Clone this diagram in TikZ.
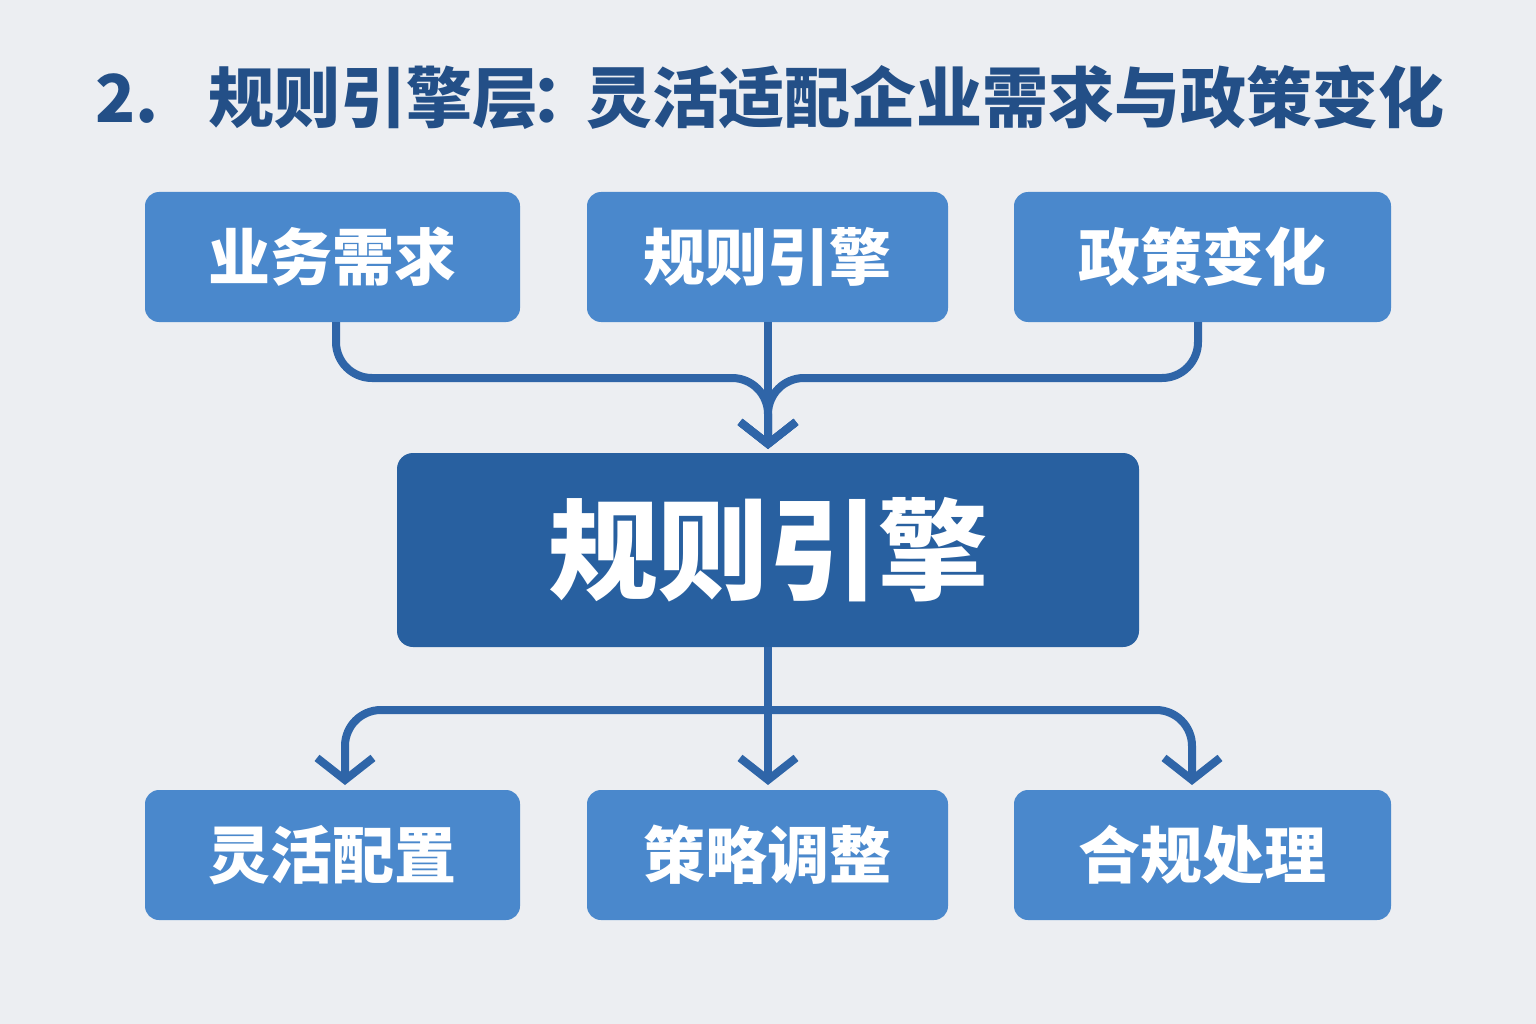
\documentclass[tikz,border=0pt]{standalone}
\usepackage{fontspec}
\newfontfamily\cjk{Noto Sans CJK SC}
\usetikzlibrary{arrows.meta}
\definecolor{bg}{HTML}{ECEEF2}
\definecolor{boxc}{HTML}{4A88CC}
\definecolor{mainc}{HTML}{2860A0}
\definecolor{linec}{HTML}{2F65A8}
\definecolor{titlec}{HTML}{234F87}
\begin{document}
\begin{tikzpicture}[x=1pt,y=-1pt,
  sbox/.style={fill=boxc,rounded corners=14pt,minimum width=#1,minimum height=130pt,inner sep=0pt,text=white,font=\cjk\bfseries\fontsize{62}{64}\selectfont},
  conn/.style={draw=linec,line width=8pt,rounded corners=36pt,-{Straight Barb[length=22pt,width=56pt,line width=8pt]}},
  plain/.style={draw=linec,line width=8pt}]
\fill[bg] (0,0) rectangle (1536,1024);
\useasboundingbox (0,0) rectangle (1536,1024);
\node[text=titlec,font=\cjk\bfseries\fontsize{66}{68}\selectfont] (title) at (770,97) {2.\hspace{50pt}规则引擎层\kern-8pt：\kern-10pt 灵活适配企业需求与政策变化};
\node[sbox=375pt] (t1) at (332.5,257) {业务需求};
\node[sbox=361pt] (t2) at (767.5,257) {规则引擎};
\node[sbox=377pt] (t3) at (1202.5,257) {政策变化};
\node[fill=mainc,rounded corners=16pt,minimum width=742pt,minimum height=194pt,text=white,font=\cjk\bfseries\fontsize{110}{114}\selectfont] (c) at (768,550) {规则引擎};
\node[sbox=375pt] (b1) at (332.5,855) {灵活配置};
\node[sbox=361pt] (b2) at (767.5,855) {策略调整};
\node[sbox=377pt] (b3) at (1202.5,855) {合规处理};
\coordinate (tip) at (768,449);
\draw[conn] (t1.south -| 336,0) -- (336,378) -- (768,378) -- (tip);
\draw[conn] (t3.south -| 1198,0) -- (1198,378) -- (768,378) -- (tip);
\draw[conn] (t2.south -| 768,0) -- (tip);
\coordinate (br) at (768,710);
\draw[plain] (c.south) -- (br);
\draw[conn] (768,710) -- (345,710) -- (345,785);
\draw[conn] (768,710) -- (1192,710) -- (1192,785);
\draw[conn] (br) -- (768,785);
\end{tikzpicture}
\end{document}
